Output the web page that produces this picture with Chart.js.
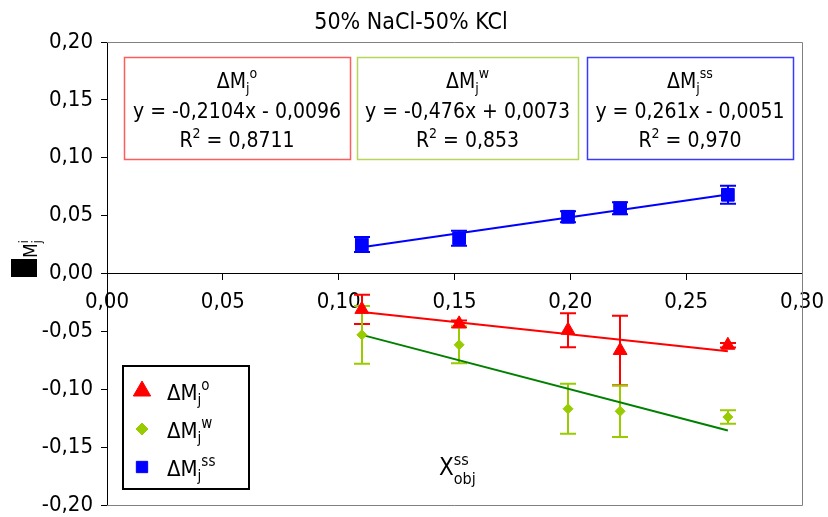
<!DOCTYPE html>
<html>
<head>
<meta charset="utf-8">
<script src="https://cdn.jsdelivr.net/npm/chart.js@4.4.0/dist/chart.umd.min.js"></script>
<style>
  html, body { margin: 0; padding: 0; background: #fff; }
  #wrap { width: 828px; height: 517px; position: relative; }
</style>
</head>
<body>
<div id="wrap"><canvas id="chart"></canvas></div>
<script>
const FONT = '"DejaVu Sans Condensed", "DejaVu Sans", sans-serif';

// x values (X_obj^ss) shared by the three series
const xObj = [0.110, 0.152, 0.199, 0.2215, 0.268];

// ΔMj^o
const dMo = [-0.031, -0.0435, -0.049, -0.0665, -0.062];
const dMoErr = [0.0127, 0.003, 0.0147, 0.030, 0.002];
// ΔMj^w
const dMw = [-0.053, -0.0616, -0.1169, -0.119, -0.124];
const dMwErr = [0.025, 0.016, 0.0216, 0.0223, 0.0058];
// ΔMj^ss
const dMss = [0.025, 0.0305, 0.049, 0.0564, 0.068];
const dMssErr = [0.0065, 0.0065, 0.0047, 0.0052, 0.0078];

const seriesSup = ["o", "w", "ss"];
const eqLabels = ["y = -0,2104x - 0,0096", "y = -0,476x + 0,0073", "y = 0,261x - 0,0051"];
const r2Labels = ["0,8711", "0,853", "0,970"];

const markerColors = ["#ff0000", "#99cc00", "#0000ff"];
const trendColors = ["#ff0000", "#008000", "#0000ff"];
const boxColors = ["#ff5c5c", "#b5d65a", "#3a3aff"];
const pointStyles = ["triangle", "rectRot", "rect"];
const pointSizes = [8, 5, 9];

const series = [
  { y: dMo, err: dMoErr },
  { y: dMw, err: dMwErr },
  { y: dMss, err: dMssErr },
];

const fmt = (v) => Number(v).toFixed(2).replace(".", ",").replace("-0,00", "0,00");

function toPoints(xs, ys) {
  return xs.map((x, i) => ({ x: x, y: ys[i] }));
}

// least squares line through the plotted points, drawn over the data range
function trend(xs, ys) {
  const n = xs.length;
  const mx = xs.reduce((a, b) => a + b, 0) / n;
  const my = ys.reduce((a, b) => a + b, 0) / n;
  let sxy = 0, sxx = 0;
  for (let i = 0; i < n; i++) {
    sxy += (xs[i] - mx) * (ys[i] - my);
    sxx += (xs[i] - mx) * (xs[i] - mx);
  }
  const a = sxy / sxx;
  const b = my - a * mx;
  const x0 = Math.min(...xs), x1 = Math.max(...xs);
  return [{ x: x0, y: a * x0 + b }, { x: x1, y: a * x1 + b }];
}

// text with sub/superscripts; a run with stack:true starts where the previous run started
function rich(ctx, x, y, runs, align) {
  const pos = [];
  let end = 0, prevStart = 0;
  runs.forEach((r) => {
    ctx.font = r.s + "px " + FONT;
    const w = ctx.measureText(r.t).width;
    const start = r.stack ? prevStart : end;
    pos.push(start);
    prevStart = start;
    end = Math.max(end, start + w);
  });
  const x0 = align === "center" ? x - end / 2 : x;
  runs.forEach((r, i) => {
    ctx.font = r.s + "px " + FONT;
    ctx.fillText(r.t, x0 + pos[i], y + (r.dy || 0));
  });
}

const deltaM = (sup, size) => [
  { t: "\u0394M", s: size },
  { t: "j", s: Math.round(size * 0.68), dy: 5 },
  { t: sup, s: Math.round(size * 0.68), dy: -10 },
];

const errorBars = {
  id: "errorBars",
  beforeDatasetsDraw(chart) {
    const { ctx, scales } = chart;
    ctx.save();
    ctx.lineWidth = 2;
    series.forEach((s, k) => {
      ctx.strokeStyle = markerColors[k];
      s.y.forEach((v, i) => {
        const px = Math.round(scales.x.getPixelForValue(xObj[i]));
        const top = scales.y.getPixelForValue(v + s.err[i]);
        const bot = scales.y.getPixelForValue(v - s.err[i]);
        ctx.beginPath();
        ctx.moveTo(px, top);
        ctx.lineTo(px, bot);
        ctx.moveTo(px - 8, top);
        ctx.lineTo(px + 8, top);
        ctx.moveTo(px - 8, bot);
        ctx.lineTo(px + 8, bot);
        ctx.stroke();
      });
    });
    ctx.restore();
  },
};

const decor = {
  id: "decor",
  beforeDatasetsDraw(chart) {
    const { ctx, chartArea: a } = chart;
    ctx.save();
    ctx.strokeStyle = "#808080";
    ctx.lineWidth = 1;
    ctx.beginPath();
    ctx.moveTo(a.left, a.top + 0.5);
    ctx.lineTo(a.right + 0.5, a.top + 0.5);
    ctx.lineTo(a.right + 0.5, a.bottom + 0.5);
    ctx.lineTo(a.left, a.bottom + 0.5);
    ctx.stroke();
    ctx.restore();
  },
  afterDraw(chart) {
    const ctx = chart.ctx;
    ctx.save();
    ctx.fillStyle = "#000";
    ctx.textBaseline = "alphabetic";

    // title
    ctx.font = "23px " + FONT;
    ctx.textAlign = "center";
    ctx.fillText("50% NaCl-50% KCl", 411, 29);
    ctx.textAlign = "left";

    // equation boxes
    const boxes = [[124, 226], [357, 221], [587, 206]];
    boxes.forEach((b, k) => {
      ctx.strokeStyle = boxColors[k];
      ctx.lineWidth = 1.5;
      ctx.strokeRect(b[0] + 0.5, 57.5, b[1], 102);
      const cx = b[0] + b[1] / 2;
      ctx.fillStyle = "#000";
      rich(ctx, cx, 88, deltaM(seriesSup[k], 21), "center");
      rich(ctx, cx, 118, [{ t: eqLabels[k], s: 21 }], "center");
      rich(ctx, cx, 147, [{ t: "R", s: 21 }, { t: "2", s: 14, dy: -9 }, { t: " = " + r2Labels[k], s: 21 }], "center");
    });

    // legend
    ctx.strokeStyle = "#000";
    ctx.lineWidth = 2;
    ctx.strokeRect(123, 366, 126, 123);
    const legY = [391, 429, 467];
    const legR = [10, 6, 8];
    legY.forEach((yy, k) => {
      ctx.fillStyle = markerColors[k];
      ctx.strokeStyle = markerColors[k];
      ctx.lineWidth = 1;
      Chart.helpers.drawPoint(ctx, { pointStyle: pointStyles[k], radius: legR[k], rotation: 0, borderWidth: 1 }, 142, yy);
      ctx.fillStyle = "#000";
      rich(ctx, 167, yy + 9, deltaM(seriesSup[k], 22), "left");
    });

    // x axis title
    rich(ctx, 439, 475, [
      { t: "X", s: 24 },
      { t: "ss", s: 16, dy: -10 },
      { t: "obj", s: 16, dy: 9, stack: true },
    ], "left");

    // y axis title (delta rendered as a filled box)
    ctx.fillRect(11, 259, 26, 18);
    ctx.translate(37, 258);
    ctx.rotate(-Math.PI / 2);
    rich(ctx, 0, 0, [
      { t: "M", s: 19 },
      { t: "j", s: 12, dy: 4 },
      { t: "i", s: 12, dy: -9, stack: true },
    ], "left");
    ctx.restore();
  },
};

const datasets = [];
series.forEach((s, k) => {
  datasets.push({
    label: "\u0394Mj" + seriesSup[k],
    data: toPoints(xObj, s.y),
    pointStyle: pointStyles[k],
    pointRadius: pointSizes[k],
    pointBackgroundColor: markerColors[k],
    pointBorderColor: markerColors[k],
    pointBorderWidth: 1,
    showLine: false,
    order: 0,
  });
});
series.forEach((s, k) => {
  datasets.push({
    label: "trend " + seriesSup[k],
    data: trend(xObj, s.y),
    showLine: true,
    borderColor: trendColors[k],
    borderWidth: 2,
    pointRadius: 0,
    order: 1,
  });
});

new Chart(document.getElementById("chart"), {
  type: "scatter",
  data: { datasets: datasets },
  options: {
    responsive: true,
    maintainAspectRatio: false,
    animation: false,
    layout: { padding: { left: 0, top: 42, right: 26, bottom: 12 } },
    plugins: {
      legend: { display: false },
      tooltip: { enabled: false },
      title: { display: false },
    },
    scales: {
      x: {
        type: "linear",
        position: { y: 0 },
        min: 0,
        max: 0.3,
        afterFit: (s) => { s.paddingLeft = 0; s.paddingRight = 0; },
        ticks: {
          stepSize: 0.05,
          callback: (v) => fmt(v),
          color: "#000",
          font: { family: FONT, size: 22 },
          padding: 10,
          maxRotation: 0,
        },
        grid: { display: true, drawOnChartArea: false, drawTicks: true, tickLength: 6, color: "#000" },
        border: { display: true, color: "#000", width: 1 },
      },
      y: {
        type: "linear",
        position: "left",
        min: -0.2,
        max: 0.2,
        afterFit: (s) => { s.width = 107; s.paddingTop = 0; s.paddingBottom = 0; },
        ticks: {
          stepSize: 0.05,
          callback: (v) => fmt(v),
          color: "#000",
          font: { family: FONT, size: 22 },
          padding: 8,
        },
        grid: { display: true, drawOnChartArea: false, drawTicks: true, tickLength: 6, color: "#000" },
        border: { display: true, color: "#000", width: 1 },
      },
    },
  },
  plugins: [errorBars, decor],
});
</script>
</body>
</html>
